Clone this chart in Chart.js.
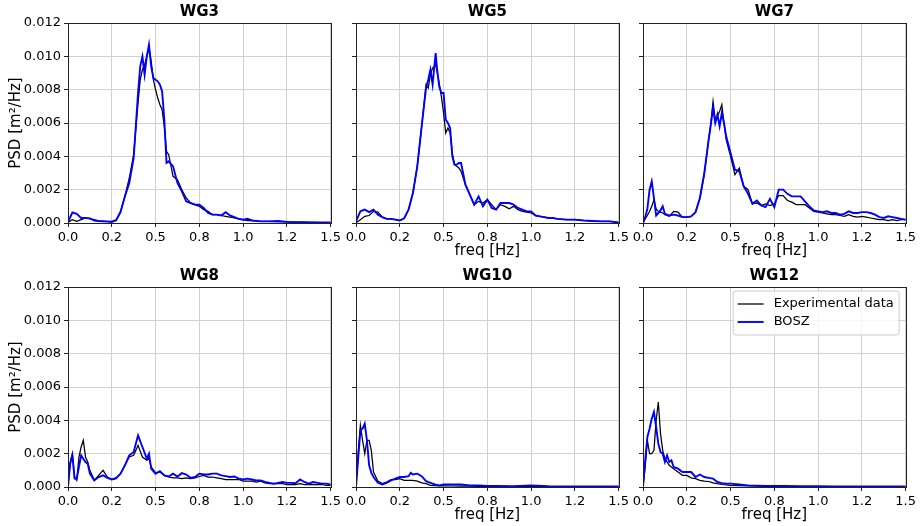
<!DOCTYPE html>
<html>
<head>
<meta charset="utf-8">
<title>PSD comparison</title>
<script src="https://cdn.jsdelivr.net/npm/chart.js@4.4.0/dist/chart.umd.min.js"></script>
<style>
  html, body { margin: 0; padding: 0; background: #fff; }
  #fig { position: relative; width: 923px; height: 526px; overflow: hidden; }
  #fig canvas { position: absolute; }
</style>
</head>
<body>
<div id="fig"></div>
<script>
// tick labels (matplotlib rounds 0.25 -> 0.2, 0.75 -> 0.8, 1.25 -> 1.2)
const xTickLabels = ['0.0', '0.2', '0.5', '0.8', '1.0', '1.2', '1.5'];
const yTickLabels = ['0.000', '0.002', '0.004', '0.006', '0.008', '0.010', '0.012'];
const seriesNames = ['Experimental data', 'BOSZ'];

// WG3
const wg3Freq = [0, 0.025, 0.05, 0.075, 0.1, 0.125, 0.15, 0.175, 0.2, 0.225, 0.25, 0.275, 0.3, 0.325, 0.35, 0.375, 0.4, 0.4125, 0.425, 0.4375, 0.45, 0.4625, 0.475, 0.4875, 0.5, 0.5125, 0.525, 0.5375, 0.55, 0.5625, 0.575, 0.6, 0.625, 0.65, 0.675, 0.7, 0.725, 0.75, 0.775, 0.8, 0.825, 0.85, 0.875, 0.9, 0.925, 0.95, 0.975, 1.0, 1.025, 1.05, 1.1, 1.15, 1.2, 1.25, 1.3, 1.35, 1.4, 1.45, 1.5];
const wg3Exp = [0.00005, 0.0002, 0.0001, 0.0002, 0.0003, 0.00025, 0.0002, 0.00012, 0.00012, 0.0001, 0.0001, 0.00018, 0.0007, 0.0016, 0.0027, 0.0041, 0.0072, 0.0086, 0.0092, 0.0095, 0.0100, 0.0105, 0.0097, 0.0086, 0.0080, 0.0075, 0.0071, 0.0068, 0.0058, 0.0043, 0.0041, 0.0028, 0.0026, 0.0020, 0.0015, 0.0012, 0.0011, 0.0010, 0.0008, 0.0007, 0.0005, 0.0005, 0.00045, 0.0004, 0.00035, 0.0003, 0.00025, 0.0002, 0.00014, 0.00015, 0.0001, 0.0001, 0.00008, 0.00007, 0.00005, 0.00004, 0.00004, 0.00003, 0.00003];
const wg3Bosz = [0.00005, 0.00063, 0.00055, 0.0003, 0.0003, 0.00028, 0.00015, 0.00012, 0.0001, 0.00008, 0.00006, 0.00017, 0.00065, 0.0016, 0.0024, 0.0039, 0.0078, 0.0094, 0.0100, 0.0089, 0.0100, 0.0107, 0.0094, 0.0087, 0.0086, 0.0085, 0.0083, 0.0079, 0.0062, 0.0036, 0.0037, 0.0034, 0.0024, 0.0019, 0.0013, 0.0012, 0.0011, 0.0011, 0.0009, 0.0006, 0.0005, 0.0005, 0.00045, 0.00065, 0.00045, 0.00035, 0.00025, 0.0002, 0.00025, 0.00015, 0.0001, 0.0001, 0.00012, 0.00007, 0.00005, 0.00005, 0.00004, 0.00003, 0.00003];

// WG5
const wg5Freq = [0, 0.025, 0.05, 0.075, 0.1, 0.125, 0.15, 0.175, 0.2, 0.225, 0.25, 0.275, 0.3, 0.325, 0.35, 0.375, 0.4, 0.4125, 0.425, 0.4375, 0.455, 0.4625, 0.475, 0.4875, 0.5, 0.5125, 0.525, 0.5375, 0.55, 0.5625, 0.575, 0.5875, 0.6, 0.625, 0.65, 0.675, 0.7, 0.725, 0.75, 0.775, 0.8, 0.825, 0.85, 0.875, 0.9, 0.925, 0.95, 0.975, 1.0, 1.025, 1.05, 1.075, 1.1, 1.125, 1.15, 1.2, 1.25, 1.3, 1.35, 1.4, 1.45, 1.5];
const wg5Exp = [0.00002, 0.0002, 0.0004, 0.00045, 0.0007, 0.00065, 0.00035, 0.00025, 0.00025, 0.0002, 0.00015, 0.00028, 0.0008, 0.0018, 0.0034, 0.0058, 0.0083, 0.0081, 0.0089, 0.0093, 0.0095, 0.0091, 0.0084, 0.0076, 0.0066, 0.0054, 0.0057, 0.0054, 0.0042, 0.0035, 0.0034, 0.0033, 0.0031, 0.0023, 0.0017, 0.0011, 0.0013, 0.0012, 0.0014, 0.0011, 0.0008, 0.0011, 0.0010, 0.00085, 0.0010, 0.0008, 0.0007, 0.00065, 0.0006, 0.00045, 0.0004, 0.00035, 0.0003, 0.0003, 0.00025, 0.0002, 0.0002, 0.00015, 0.00012, 0.0001, 0.0001, 0.00003];
const wg5Bosz = [0.0001, 0.0007, 0.0008, 0.00065, 0.0008, 0.0005, 0.00035, 0.00025, 0.00025, 0.0002, 0.00015, 0.00028, 0.0008, 0.0018, 0.0034, 0.0058, 0.0081, 0.0086, 0.0092, 0.0083, 0.0102, 0.0093, 0.0082, 0.0078, 0.0078, 0.0062, 0.0060, 0.0057, 0.0040, 0.0035, 0.0035, 0.0036, 0.0036, 0.0023, 0.0017, 0.0011, 0.0016, 0.0010, 0.0014, 0.0009, 0.0008, 0.0012, 0.0012, 0.0012, 0.0011, 0.0009, 0.0008, 0.0007, 0.0007, 0.00045, 0.0004, 0.00035, 0.0003, 0.0003, 0.00025, 0.0002, 0.0002, 0.00015, 0.00012, 0.0001, 0.0001, 0.00003];

// WG7
const wg7Freq = [0, 0.0125, 0.025, 0.0375, 0.05, 0.0625, 0.075, 0.0875, 0.1, 0.1125, 0.125, 0.15, 0.175, 0.2, 0.225, 0.25, 0.275, 0.3, 0.325, 0.35, 0.375, 0.3875, 0.4, 0.4125, 0.425, 0.4375, 0.45, 0.4625, 0.475, 0.5, 0.525, 0.55, 0.575, 0.6, 0.625, 0.65, 0.675, 0.7, 0.725, 0.75, 0.775, 0.8, 0.825, 0.85, 0.875, 0.9, 0.925, 0.95, 0.975, 1.0, 1.025, 1.05, 1.075, 1.1, 1.125, 1.15, 1.175, 1.2, 1.225, 1.25, 1.275, 1.3, 1.325, 1.35, 1.375, 1.4, 1.425, 1.45, 1.475, 1.5];
const wg7Exp = [0, 0.00025, 0.00045, 0.0007, 0.001, 0.0014, 0.00085, 0.0007, 0.00065, 0.0006, 0.0005, 0.0004, 0.0007, 0.00065, 0.00035, 0.00035, 0.0004, 0.00065, 0.0015, 0.0029, 0.0050, 0.0060, 0.0073, 0.0062, 0.0064, 0.0067, 0.0071, 0.0060, 0.0050, 0.0040, 0.0029, 0.0033, 0.0022, 0.0020, 0.00115, 0.0012, 0.00105, 0.00115, 0.00105, 0.00115, 0.00165, 0.00165, 0.00135, 0.00125, 0.0011, 0.0011, 0.0011, 0.0009, 0.0007, 0.00065, 0.0006, 0.00055, 0.0005, 0.0005, 0.00045, 0.0004, 0.0005, 0.0004, 0.00035, 0.0004, 0.00035, 0.0003, 0.00025, 0.0002, 0.0002, 0.00015, 0.0002, 0.00015, 0.0002, 0.0002];
const wg7Bosz = [0, 0.00035, 0.00085, 0.0020, 0.0025, 0.0015, 0.00045, 0.0006, 0.00075, 0.0010, 0.00055, 0.00045, 0.0005, 0.00045, 0.00035, 0.00035, 0.0004, 0.00065, 0.0015, 0.0030, 0.0050, 0.0059, 0.0069, 0.0060, 0.0065, 0.0058, 0.0066, 0.0060, 0.0052, 0.0042, 0.0032, 0.0031, 0.0022, 0.00175, 0.00115, 0.00135, 0.00105, 0.00095, 0.00145, 0.00095, 0.0020, 0.0020, 0.00175, 0.0016, 0.0016, 0.0016, 0.0013, 0.0010, 0.00075, 0.0007, 0.00065, 0.0007, 0.0006, 0.0006, 0.0005, 0.00055, 0.0007, 0.0006, 0.0006, 0.00065, 0.00065, 0.0006, 0.0005, 0.00035, 0.0003, 0.0004, 0.00035, 0.0003, 0.00025, 0.0002];

// WG8
const wg8Freq = [0, 0.0125, 0.025, 0.0375, 0.05, 0.0625, 0.075, 0.0875, 0.1, 0.1125, 0.125, 0.15, 0.175, 0.2, 0.225, 0.25, 0.275, 0.3, 0.325, 0.35, 0.375, 0.4, 0.425, 0.45, 0.4625, 0.475, 0.5, 0.525, 0.55, 0.575, 0.6, 0.625, 0.65, 0.675, 0.7, 0.725, 0.75, 0.775, 0.8, 0.825, 0.85, 0.875, 0.9, 0.925, 0.95, 0.975, 1.0, 1.025, 1.05, 1.075, 1.1, 1.125, 1.15, 1.175, 1.2, 1.225, 1.25, 1.275, 1.3, 1.325, 1.35, 1.375, 1.4, 1.425, 1.45, 1.475, 1.5];
const wg8Exp = [0.0001, 0.0015, 0.0020, 0.0006, 0.0004, 0.0018, 0.0024, 0.0028, 0.0018, 0.0015, 0.0010, 0.0004, 0.0007, 0.0010, 0.0006, 0.00045, 0.0005, 0.0008, 0.0013, 0.0018, 0.0019, 0.0025, 0.0018, 0.0016, 0.0017, 0.0012, 0.00085, 0.0009, 0.0007, 0.0006, 0.00055, 0.00055, 0.0005, 0.00055, 0.0005, 0.00055, 0.00063, 0.0007, 0.0006, 0.0006, 0.00055, 0.0005, 0.00045, 0.00045, 0.00045, 0.00045, 0.00035, 0.00035, 0.00035, 0.0003, 0.00035, 0.00025, 0.0002, 0.0002, 0.0002, 0.0002, 0.00015, 0.00015, 0.00015, 0.0002, 0.00015, 0.00015, 0.00015, 0.00015, 0.00015, 0.0001, 0.0001];
const wg8Bosz = [0, 0.0014, 0.0019, 0.0005, 0.0005, 0.0012, 0.0019, 0.0017, 0.0015, 0.0014, 0.0008, 0.0004, 0.0006, 0.0007, 0.00055, 0.00045, 0.00055, 0.0008, 0.0013, 0.0019, 0.0021, 0.0031, 0.0024, 0.0017, 0.0020, 0.0011, 0.0008, 0.00095, 0.0007, 0.00063, 0.0008, 0.00063, 0.00083, 0.00075, 0.00055, 0.0006, 0.0008, 0.00075, 0.00075, 0.0008, 0.0008, 0.0007, 0.00065, 0.0006, 0.00063, 0.0005, 0.00045, 0.0005, 0.00045, 0.0004, 0.0004, 0.0003, 0.00025, 0.0002, 0.00025, 0.0003, 0.00025, 0.00025, 0.00023, 0.00045, 0.0003, 0.0002, 0.0003, 0.00025, 0.0002, 0.0002, 0.00015];

// WG10
const wg10Freq = [0, 0.0125, 0.025, 0.0375, 0.05, 0.0625, 0.075, 0.0875, 0.1, 0.125, 0.15, 0.175, 0.2, 0.225, 0.25, 0.275, 0.3, 0.3125, 0.325, 0.35, 0.375, 0.4, 0.425, 0.45, 0.475, 0.5, 0.55, 0.6, 0.65, 0.7, 0.75, 0.8, 0.9, 1.0, 1.1, 1.2, 1.3, 1.4, 1.5];
const wg10Exp = [0, 0.0021, 0.0037, 0.0028, 0.0020, 0.0028, 0.0028, 0.0022, 0.0009, 0.00035, 0.0002, 0.0003, 0.00045, 0.00045, 0.0005, 0.0004, 0.0004, 0.0004, 0.0004, 0.00035, 0.00025, 0.0002, 0.0001, 0.00008, 0.00007, 0.00007, 0.00006, 0.00005, 0.00005, 0.00004, 0.00004, 0.00004, 0.00003, 0.00004, 0.00003, 0.00003, 0.00003, 0.00003, 0.00003];
const wg10Bosz = [0, 0.0017, 0.0034, 0.0035, 0.0038, 0.0028, 0.0013, 0.00085, 0.0006, 0.00025, 0.00015, 0.00025, 0.0004, 0.0005, 0.0006, 0.0006, 0.00065, 0.00085, 0.00075, 0.0008, 0.00065, 0.00035, 0.00025, 0.00015, 0.0001, 0.00015, 0.00015, 0.00015, 0.0001, 0.0001, 0.00007, 0.00006, 0.00005, 0.0001, 0.00005, 0.00004, 0.00004, 0.00004, 0.00003];

// WG12
const wg12Freq = [0, 0.0125, 0.025, 0.0375, 0.05, 0.0625, 0.075, 0.0875, 0.1, 0.1125, 0.125, 0.1375, 0.15, 0.1625, 0.175, 0.2, 0.225, 0.25, 0.275, 0.3, 0.325, 0.35, 0.375, 0.4, 0.425, 0.45, 0.475, 0.5, 0.55, 0.6, 0.65, 0.7, 0.8, 0.9, 1.0, 1.1, 1.2, 1.3, 1.4, 1.5];
const wg12Exp = [0, 0.0012, 0.0028, 0.0020, 0.0020, 0.0022, 0.0040, 0.0051, 0.0032, 0.0022, 0.0017, 0.0015, 0.0013, 0.0012, 0.0011, 0.0009, 0.0007, 0.0007, 0.00055, 0.0005, 0.0004, 0.00035, 0.00033, 0.00025, 0.0002, 0.00015, 0.00013, 0.0001, 0.00008, 0.00006, 0.00005, 0.00004, 0.00004, 0.00003, 0.00003, 0.00003, 0.00002, 0.00002, 0.00002, 0.00002];
const wg12Bosz = [0, 0.0016, 0.0030, 0.0035, 0.0041, 0.0045, 0.0036, 0.0026, 0.0021, 0.0020, 0.0015, 0.0019, 0.0015, 0.0016, 0.0012, 0.0011, 0.0009, 0.0009, 0.0009, 0.0006, 0.00075, 0.0006, 0.00055, 0.0005, 0.0003, 0.00023, 0.0002, 0.0002, 0.00015, 0.0001, 0.00008, 0.00007, 0.00006, 0.00005, 0.00005, 0.00004, 0.00004, 0.00003, 0.00003, 0.00003];

// layout of the 2x3 grid (canvas boxes in page pixels)
const CW = 344, CH = 262;   // canvas size
const AXIS_W = 68;          // space left of the plot area
const AXIS_H = 39;          // space below the plot area

const panels = [
  { title: 'WG3',  freq: wg3Freq,  exp: wg3Exp,  bosz: wg3Bosz,  left: 0,   top: 0,   yLabels: true,  xTitle: false, legend: false },
  { title: 'WG5',  freq: wg5Freq,  exp: wg5Exp,  bosz: wg5Bosz,  left: 288, top: 0,   yLabels: false, xTitle: true,  legend: false },
  { title: 'WG7',  freq: wg7Freq,  exp: wg7Exp,  bosz: wg7Bosz,  left: 575, top: 0,   yLabels: false, xTitle: true,  legend: false },
  { title: 'WG8',  freq: wg8Freq,  exp: wg8Exp,  bosz: wg8Bosz,  left: 0,   top: 264, yLabels: true,  xTitle: false, legend: false },
  { title: 'WG10', freq: wg10Freq, exp: wg10Exp, bosz: wg10Bosz, left: 288, top: 264, yLabels: false, xTitle: true,  legend: false },
  { title: 'WG12', freq: wg12Freq, exp: wg12Exp, bosz: wg12Bosz, left: 575, top: 264, yLabels: false, xTitle: true,  legend: true }
];

Chart.defaults.font.family = '"DejaVu Sans", sans-serif';
Chart.defaults.font.size = 13;
Chart.defaults.color = '#000';

// box around the plot area, like matplotlib spines
const frame = {
  id: 'frame',
  afterDatasetsDraw(chart) {
    const { ctx, chartArea: a } = chart;
    ctx.save();
    ctx.strokeStyle = '#222';
    ctx.lineWidth = 1;
    ctx.strokeRect(Math.round(a.left) + 0.5, Math.round(a.top) + 0.5,
      Math.round(a.right - a.left), Math.round(a.bottom - a.top));
    ctx.restore();
  }
};

// framed legend in the upper right corner of the plot area
const boxLegend = {
  id: 'boxLegend',
  afterDraw(chart, args, opts) {
    if (!opts.show) return;
    const { ctx, chartArea: a } = chart;
    const sets = chart.data.datasets;
    const w = 166, h = 44;
    const x0 = a.right - 7 - w, y0 = a.top + 3.5;
    ctx.save();
    ctx.fillStyle = 'rgba(255,255,255,0.8)';
    ctx.strokeStyle = '#cccccc';
    ctx.lineWidth = 1;
    ctx.beginPath();
    ctx.roundRect(x0 + 0.5, y0 + 0.5, w, h, 3);
    ctx.fill();
    ctx.stroke();
    ctx.font = '13px "DejaVu Sans", sans-serif';
    ctx.textBaseline = 'middle';
    ctx.fillStyle = '#000';
    sets.forEach((ds, i) => {
      const y = y0 + 13.5 + i * 18;
      ctx.strokeStyle = ds.borderColor;
      ctx.lineWidth = ds.borderWidth;
      ctx.beginPath();
      ctx.moveTo(x0 + 5, y);
      ctx.lineTo(x0 + 31, y);
      ctx.stroke();
      ctx.fillText(ds.label, x0 + 41, y);
    });
    ctx.restore();
  }
};

const fig = document.getElementById('fig');

panels.forEach(p => {
  const canvas = document.createElement('canvas');
  canvas.width = CW;
  canvas.height = CH;
  canvas.style.left = p.left + 'px';
  canvas.style.top = p.top + 'px';
  fig.appendChild(canvas);

  new Chart(canvas, {
    type: 'line',
    data: {
      datasets: [
        {
          label: seriesNames[0],
          data: p.freq.map((f, i) => ({ x: f, y: p.exp[i] })),
          borderColor: '#000000',
          borderWidth: 1.25,
          order: 1
        },
        {
          label: seriesNames[1],
          data: p.freq.map((f, i) => ({ x: f, y: p.bosz[i] })),
          borderColor: '#0000ff',
          borderWidth: 1.9,
          order: 0
        }
      ]
    },
    options: {
      responsive: false,
      animation: false,
      events: [],
      layout: { padding: { left: 0, right: CW - AXIS_W - 264, top: 0, bottom: 0 } },
      elements: { point: { radius: 0 }, line: { tension: 0 } },
      scales: {
        x: {
          type: 'linear',
          min: 0,
          max: 1.5,
          afterFit: s => { s.height = AXIS_H; },
          ticks: {
            stepSize: 0.25,
            autoSkip: false,
            maxRotation: 0,
            padding: 3,
            callback: (v, i) => xTickLabels[i]
          },
          grid: { color: '#d0d0d0', lineWidth: 1, tickLength: 4, tickColor: '#222' },
          border: { display: false },
          title: {
            display: p.xTitle,
            text: 'freq [Hz]',
            font: { size: 15 },
            padding: { top: 0, bottom: 2 }
          }
        },
        y: {
          min: 0,
          max: 0.012,
          afterFit: s => { s.width = AXIS_W; },
          ticks: {
            stepSize: 0.002,
            padding: 3,
            callback: (v, i) => p.yLabels ? yTickLabels[i] : ''
          },
          grid: { color: '#d0d0d0', lineWidth: 1, tickLength: 4, tickColor: '#222' },
          border: { display: false },
          title: {
            display: p.yLabels,
            text: 'PSD [m\u00b2/Hz]',
            font: { size: 15 },
            padding: { top: 7, bottom: 0 }
          }
        }
      },
      plugins: {
        legend: { display: false },
        tooltip: { enabled: false },
        title: {
          display: true,
          text: p.title,
          fullSize: false,
          font: { size: 15, weight: 'bold' },
          padding: { top: 3, bottom: 2 }
        },
        boxLegend: { show: p.legend }
      }
    },
    plugins: [frame, boxLegend]
  });
});
</script>
</body>
</html>
